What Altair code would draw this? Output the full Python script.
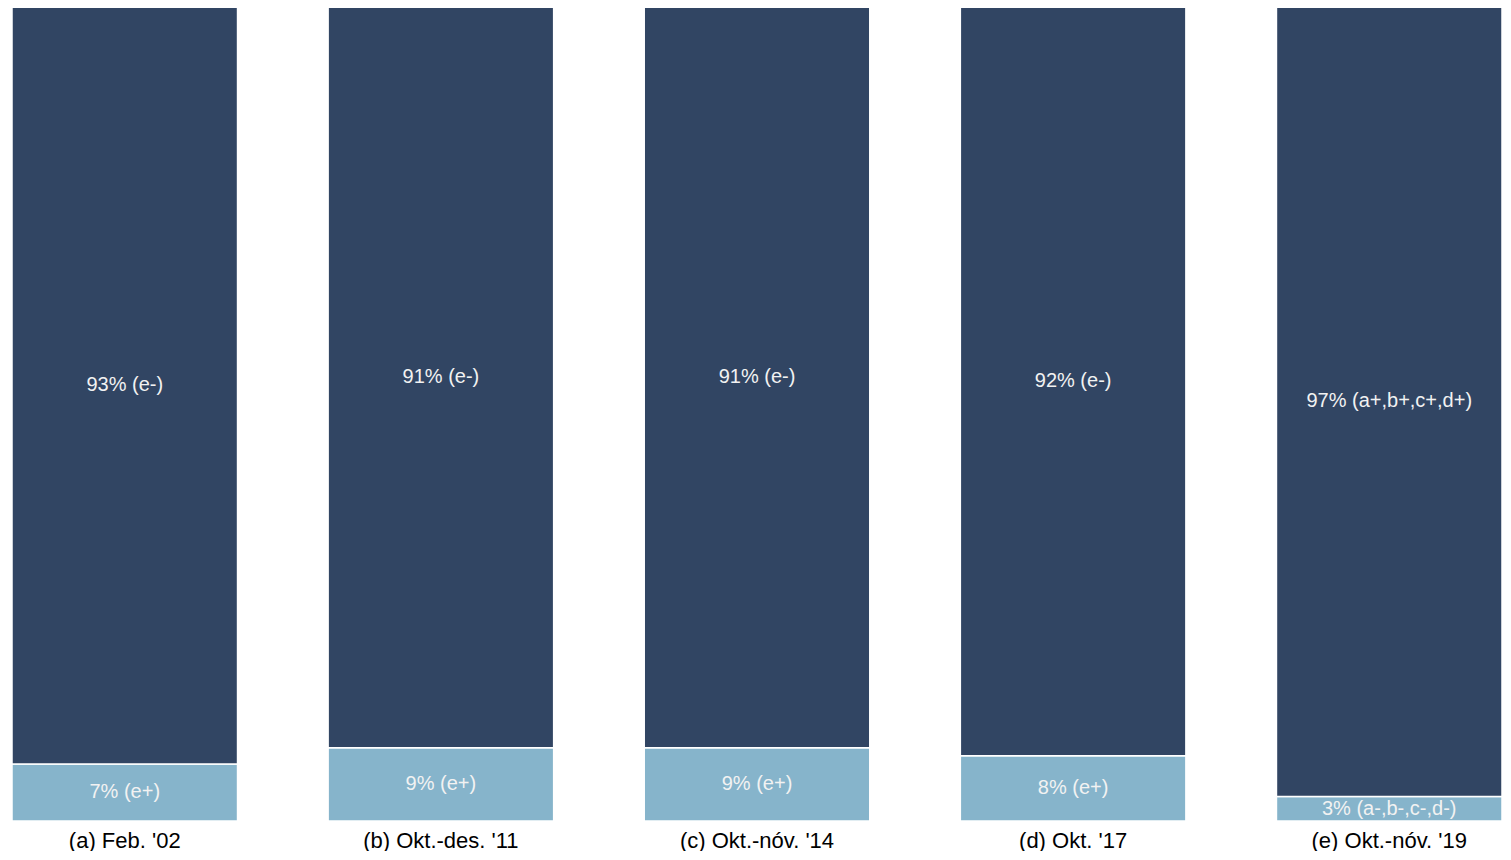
import altair as alt
import pandas as pd

periods = ["(a) Feb. '02", "(b) Okt.-des. '11", "(c) Okt.-nóv. '14", "(d) Okt. '17", "(e) Okt.-nóv. '19"]
top_values = [93, 91, 91, 92, 97]
bottom_values = [7, 9, 9, 8, 3]
top_labels = ["93% (e-)", "91% (e-)", "91% (e-)", "92% (e-)", "97% (a+,b+,c+,d+)"]
bottom_labels = ["7% (e+)", "9% (e+)", "9% (e+)", "8% (e+)", "3% (a-,b-,c-,d-)"]

rows = []
for p, tv, bv, tl, bl in zip(periods, top_values, bottom_values, top_labels, bottom_labels):
    rows.append({"period": p, "value": bv, "label": bl, "seg": "bottom", "ord": 0})
    rows.append({"period": p, "value": tv, "label": tl, "seg": "top", "ord": 1})
df = pd.DataFrame(rows)

base = alt.Chart(df).transform_stack(
    stack="value", as_=["y0", "y1"], groupby=["period"], sort=[alt.SortField("ord", order="ascending")]
).transform_calculate(mid="(datum.y0 + datum.y1) / 2")

xenc = alt.X("period:N", sort=periods,
             scale=alt.Scale(paddingInner=0.2865, paddingOuter=0),
             axis=alt.Axis(title=None, labelAngle=0, ticks=False, domain=False,
                           labelFont="Liberation Sans", labelFontSize=22, labelColor="#000000",
                           labelPadding=9))

bars = base.mark_bar(stroke="white", strokeWidth=1.5).encode(
    x=xenc,
    y=alt.Y("y0:Q", scale=alt.Scale(domain=[0, 100], nice=False), axis=None),
    y2="y1:Q",
    color=alt.Color("seg:N", scale=alt.Scale(domain=["top", "bottom"], range=["#314563", "#86B4CB"]), legend=None),
)

texts = base.mark_text(font="Liberation Sans", fontSize=20, color="#F2F2F2", baseline="middle").encode(
    x=alt.X("period:N", sort=periods),
    y=alt.Y("mid:Q"),
    text="label:N",
)

chart = alt.layer(bars, texts).properties(
    width=1495, height=843,
    padding={"left": 3, "top": -3, "right": 0, "bottom": 0},
    autosize=alt.AutoSizeParams(type="fit", contains="padding"),
).configure_view(stroke=None)

chart.save("out.html", embed_options={"renderer": "svg", "actions": False})
